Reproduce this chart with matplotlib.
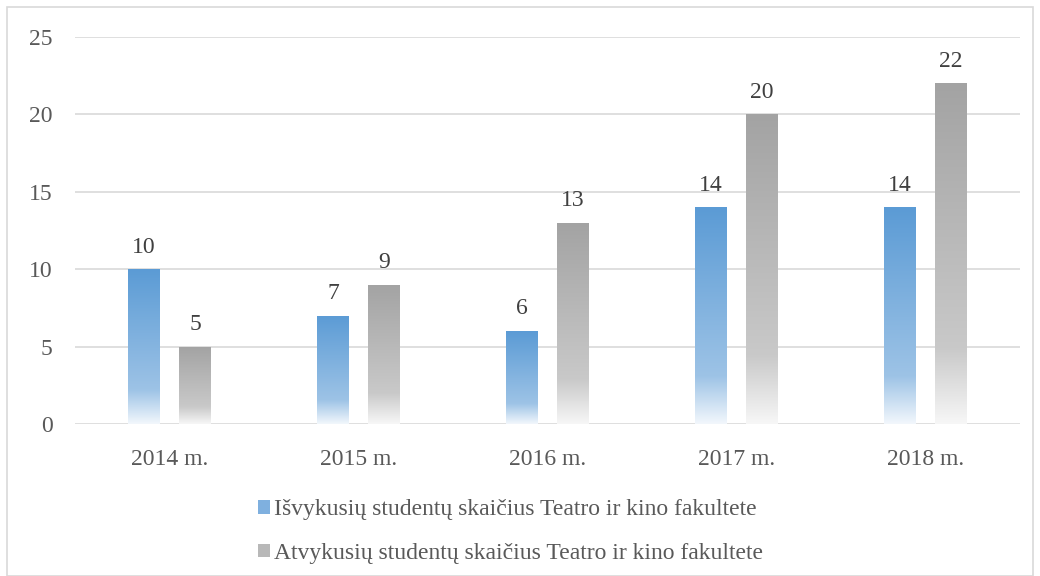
import numpy as np
import matplotlib
matplotlib.use("Agg")
import matplotlib.pyplot as plt
from matplotlib.colors import LinearSegmentedColormap
from matplotlib.patches import Rectangle, Patch

# data
years = ["2014 m.", "2015 m.", "2016 m.", "2017 m.", "2018 m."]
isvykusiu = [10, 7, 6, 14, 14]
atvykusiu = [5, 9, 13, 20, 22]
series_names = ["Išvykusių studentų skaičius Teatro ir kino fakultete",
                "Atvykusių studentų skaičius Teatro ir kino fakultete"]

plt.rcParams["font.family"] = ["Liberation Serif", "DejaVu Serif"]

blue_cmap = LinearSegmentedColormap.from_list(
    "blue_grad", [(0.0, "#f2f7fc"), (0.22, "#9dc3e6"), (1.0, "#5b9bd5")])
gray_cmap = LinearSegmentedColormap.from_list(
    "gray_grad", [(0.0, "#f7f7f7"), (0.22, "#c9c9c9"), (1.0, "#a3a3a3")])

fig = plt.figure(figsize=(10.4, 5.76), dpi=100)
ax = fig.add_axes([75 / 1040, 1 - 424 / 576, 945 / 1040, 387 / 576])

x = np.arange(len(years))
width = 0.165
offset = 0.135
grad = np.linspace(1, 0, 256).reshape(-1, 1)

def gradient_bars(xpos, vals, cmap):
    bars = ax.bar(xpos, vals, width, facecolor="none", edgecolor="none", zorder=3)
    for b in bars:
        bx, by = b.get_x(), b.get_y()
        bw, bh = b.get_width(), b.get_height()
        im = ax.imshow(grad, cmap=cmap, vmin=0, vmax=1, aspect="auto",
                       extent=[bx, bx + bw, by, by + bh], zorder=3,
                       interpolation="bicubic")
        im.set_clip_path(b)
    for b, v in zip(bars, vals):
        ax.annotate(str(v), (b.get_x() + b.get_width() / 2, v),
                    xytext=(0, 12), textcoords="offset points",
                    ha="center", va="baseline", fontsize=17, color="#404040")
    return bars

gradient_bars(x - offset, isvykusiu, blue_cmap)
gradient_bars(x + offset, atvykusiu, gray_cmap)

ax.set_xlim(-0.5, len(years) - 0.5)
ax.set_ylim(0, 25)
ax.set_yticks(range(0, 26, 5))
ax.set_xticks(x)
ax.set_xticklabels(years)
ax.yaxis.grid(True, color="#d9d9d9", linewidth=1.2)
ax.set_axisbelow(True)
for s in ax.spines.values():
    s.set_visible(False)
ax.tick_params(axis="both", length=0, labelsize=17, colors="#595959")
ax.tick_params(axis="y", pad=16)
ax.tick_params(axis="x", pad=18)

handles = [Patch(facecolor="#7fb0df"), Patch(facecolor="#b8b8b8")]
fig.legend(handles, series_names, loc="upper left",
           bbox_to_anchor=(237 / 1040, 1 - 478 / 576), frameon=False,
           fontsize=17, labelcolor="#595959", handlelength=0.5,
           handleheight=0.5, handletextpad=0.15, labelspacing=0.95)

fig.patches.append(Rectangle((7 / 1040, 0), 1026 / 1040, 1 - 7 / 576,
                             transform=fig.transFigure, fill=False,
                             edgecolor="#d9d9d9", linewidth=1.2))

fig.savefig("out.png", dpi=100)
